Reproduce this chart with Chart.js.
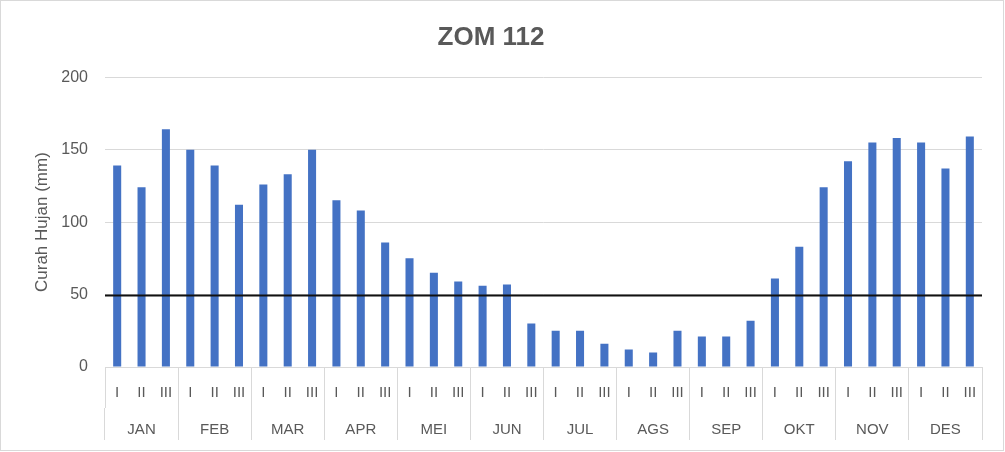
<!DOCTYPE html>
<html>
<head>
<meta charset="utf-8">
<script src="https://cdn.jsdelivr.net/npm/chart.js@4/dist/chart.umd.min.js"></script>
<style>
  body { margin: 0; background: #fff; }
</style>
</head>
<body>
<canvas id="myChart" width="1005" height="452"></canvas>
<script>
// data
var months = ['JAN', 'FEB', 'MAR', 'APR', 'MEI', 'JUN', 'JUL', 'AGS', 'SEP', 'OKT', 'NOV', 'DES'];
var dasarian = ['I', 'II', 'III'];
var curahHujan = [
    139, 124, 164,   // JAN
    150, 139, 112,   // FEB
    126, 133, 150,   // MAR
    115, 108, 86,    // APR
    75, 65, 59,      // MEI
    56, 57, 30,      // JUN
    25, 25, 16,      // JUL
    12, 10, 25,      // AGS
    21, 21, 32,      // SEP
    61, 83, 124,     // OKT
    142, 155, 158,   // NOV
    155, 137, 159    // DES
];
var yTicks = [0, 50, 100, 150, 200];
var batas = 50;

// one I/II/III label per bar
var labels = [];
months.forEach(function () {
    dasarian.forEach(function (d) { labels.push(d); });
});

var grey = '#595959';
var lineGrey = '#d9d9d9';
var fontName = "'Liberation Sans', Arial, sans-serif";

// outer frame + the 50 mm line
var extras = {
    id: 'extras',
    beforeDraw: function (chart) {
        var c = chart.ctx;
        c.save();
        c.fillStyle = '#fff';
        c.fillRect(0, 0, chart.width, chart.height);
        c.strokeStyle = lineGrey;
        c.lineWidth = 1;
        c.strokeRect(0.5, 0.5, chart.width - 2, chart.height - 2);
        c.restore();
    },
    afterDatasetsDraw: function (chart) {
        var c = chart.ctx;
        var y = Math.round(chart.scales.y.getPixelForValue(batas)) + 0.5;
        c.save();
        c.strokeStyle = '#111';
        c.lineWidth = 2;
        c.beginPath();
        c.moveTo(chart.chartArea.left, y);
        c.lineTo(chart.chartArea.right, y);
        c.stroke();
        c.restore();
    }
};

var ctx = document.getElementById('myChart').getContext('2d');
var chart = new Chart(ctx, {
    type: 'bar',
    data: {
        labels: labels,
        datasets: [{
            label: 'Curah Hujan',
            data: curahHujan,
            backgroundColor: '#4472C4',
            barPercentage: 0.33,
            categoryPercentage: 1,
            xAxisID: 'x'
        }]
    },
    options: {
        responsive: false,
        animation: false,
        layout: { padding: { top: 10, right: 23, left: 0, bottom: 12 } },
        plugins: {
            legend: { display: false },
            tooltip: { enabled: false },
            title: {
                display: true,
                text: 'ZOM 112',
                color: grey,
                font: { family: fontName, size: 26, weight: 'bold' },
                padding: { top: 12, bottom: 24 }
            }
        },
        scales: {
            x: {
                type: 'category',
                position: 'bottom',
                weight: 0,
                grid: {
                    offset: true,
                    drawOnChartArea: false,
                    tickLength: 41,
                    color: function (c) {
                        return (c.index === undefined || c.index % 3 === 0) ? lineGrey : 'rgba(0,0,0,0)';
                    }
                },
                border: { color: lineGrey },
                ticks: {
                    color: grey,
                    font: { family: fontName, size: 15 },
                    padding: -24,
                    maxRotation: 0,
                    autoSkip: false
                },
                afterFit: function (s) { s.height = 41; }
            },
            x2: {
                type: 'category',
                position: 'bottom',
                weight: 1,
                labels: months,
                offset: true,
                grid: {
                    offset: true,
                    drawOnChartArea: false,
                    tickLength: 32,
                    color: lineGrey
                },
                border: { display: false },
                ticks: {
                    color: grey,
                    font: { family: fontName, size: 15 },
                    padding: -19,
                    maxRotation: 0,
                    autoSkip: false
                },
                afterFit: function (s) { s.height = 32; }
            },
            y: {
                min: 0,
                max: 200,
                afterBuildTicks: function (s) {
                    s.ticks = yTicks.map(function (v) { return { value: v }; });
                },
                grid: { color: lineGrey, drawTicks: false },
                border: { display: false },
                ticks: {
                    color: grey,
                    font: { family: fontName, size: 16 },
                    padding: 17
                },
                title: {
                    display: true,
                    text: 'Curah Hujan (mm)',
                    color: grey,
                    font: { family: fontName, size: 17 },
                    padding: { top: 32, bottom: 0 }
                },
                afterFit: function (s) { s.width = 105; }
            }
        }
    },
    plugins: [extras]
});
</script>
</body>
</html>
